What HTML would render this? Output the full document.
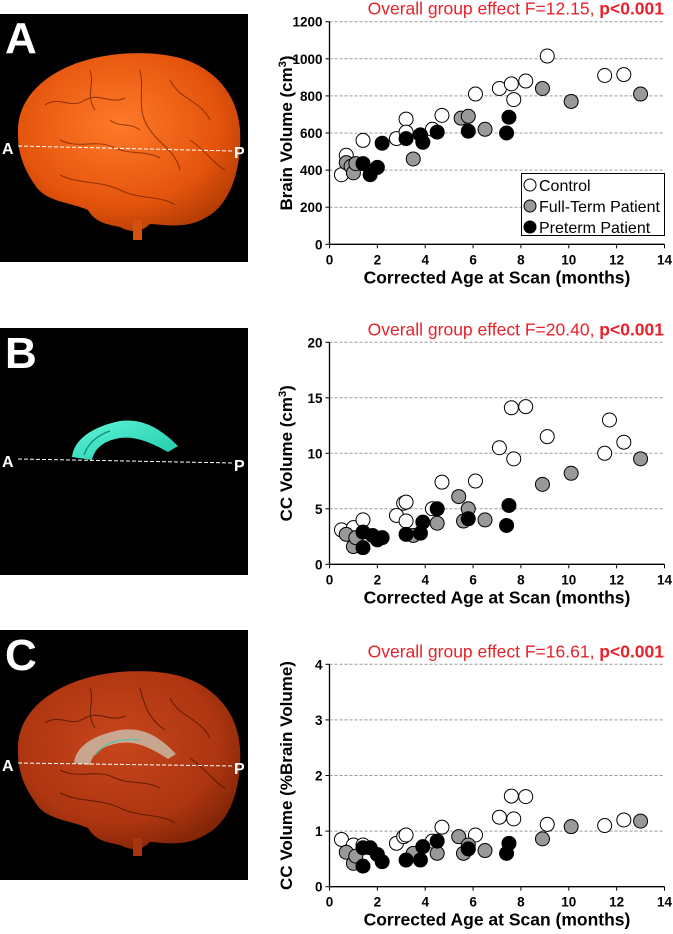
<!DOCTYPE html>
<html><head><meta charset="utf-8"><style>
html,body{margin:0;padding:0;background:#fff;}
svg{display:block;font-family:"Liberation Sans",Arial,sans-serif;}
</style></head><body>
<svg id="fig" width="673" height="934" viewBox="0 0 673 934" xmlns="http://www.w3.org/2000/svg">
<defs>
<radialGradient id="brainO" cx="45%" cy="40%" r="65%">
<stop offset="0" stop-color="#ff7a2a"/><stop offset="0.7" stop-color="#e4540c"/><stop offset="1" stop-color="#b33c05"/>
</radialGradient>
<radialGradient id="brainR" cx="45%" cy="40%" r="65%">
<stop offset="0" stop-color="#c8461c"/><stop offset="0.7" stop-color="#ad3510"/><stop offset="1" stop-color="#7e2408"/>
</radialGradient>
<linearGradient id="ccG" x1="0" y1="0" x2="1" y2="1">
<stop offset="0" stop-color="#5ff5d8"/><stop offset="1" stop-color="#1fc9aa"/>
</linearGradient>
</defs>

<g>
<rect x="0" y="14" width="248" height="248" fill="#000"/>
<path d="M18,135 C16,95 50,72 80,62 C110,52 150,50 180,58 C215,68 238,95 240,130 C242,165 232,205 205,218 C185,230 160,224 150,224 C140,234 130,232 120,227 C105,224 95,222 88,210 C70,202 45,202 35,185 C23,168 18,152 18,135 Z" fill="url(#brainO)"/>
<path d="M133,220 L133,240 L142,240 L142,220 Z" fill="#d45010"/>
<g fill="none" stroke="#7a2400" stroke-width="1" opacity="0.8">
<path d="M45,105 C60,95 70,110 85,100 C100,92 110,105 125,98"/>
<path d="M60,140 C80,150 95,138 115,148 C130,155 145,150 160,158"/>
<path d="M140,70 C145,90 135,110 150,130 C160,145 175,150 180,170"/>
<path d="M90,70 C95,85 85,95 95,110"/>
<path d="M170,80 C180,100 200,100 210,120"/>
<path d="M60,175 C80,185 100,180 120,190 C140,200 160,195 175,205"/>
<path d="M190,140 C205,150 215,165 225,170"/>
<path d="M110,120 C120,128 130,122 140,130"/>
</g>
<text x="5" y="53" font-size="44" font-weight="bold" fill="#fff">A</text>
<line x1="18" y1="146" x2="234" y2="151" stroke="#fff" stroke-width="1" stroke-dasharray="4,2"/>
<text x="2" y="154" font-size="16" font-weight="bold" fill="#fff">A</text>
<text x="234" y="158" font-size="16" font-weight="bold" fill="#fff">P</text>
</g>

<g>
<rect x="0" y="328" width="248" height="247" fill="#000"/>
<path d="M72,457 C74,438 95,426 120,421 C142,418 160,428 178,446 L168,452 C150,442 135,436 120,438 C102,441 94,450 92,460 Z" fill="url(#ccG)"/>
<path d="M84,455 C88,443 98,435 110,431" fill="none" stroke="#0d8a74" stroke-width="1.2"/>
<text x="5" y="368" font-size="44" font-weight="bold" fill="#fff">B</text>
<line x1="18" y1="459" x2="234" y2="463" stroke="#fff" stroke-width="1" stroke-dasharray="4,2"/>
<text x="2" y="467" font-size="16" font-weight="bold" fill="#fff">A</text>
<text x="234" y="471" font-size="16" font-weight="bold" fill="#fff">P</text>
</g>

<g>
<rect x="0" y="630" width="248" height="250" fill="#000"/>
<path d="M18,752 C16,713 50,690 80,680 C110,670 150,668 180,676 C215,686 238,713 240,748 C242,783 232,822 205,835 C185,848 160,842 150,842 C140,852 130,850 120,845 C105,842 95,840 88,828 C70,820 45,820 35,802 C23,785 18,770 18,752 Z" fill="url(#brainR)"/>
<path d="M133,838 L133,856 L142,856 L142,838 Z" fill="#a83410"/>
<g fill="none" stroke="#4a1400" stroke-width="1" opacity="0.8">
<path d="M45,723 C60,713 70,728 85,718 C100,710 110,723 125,716"/>
<path d="M60,770 C80,780 95,768 115,778 C130,785 145,780 160,788"/>
<path d="M140,688 C145,708 150,720 165,730"/>
<path d="M90,688 C95,703 85,713 95,728"/>
<path d="M170,698 C180,718 200,718 210,738"/>
<path d="M60,793 C80,803 100,798 120,808 C140,818 160,813 175,823"/>
<path d="M190,758 C205,768 215,783 225,788"/>
</g>
<path d="M74,763 C76,745 95,735 120,730 C142,727 158,735 176,754 L168,759 C150,747 135,741 120,743 C100,746 92,755 90,765 Z" fill="#cfe9e0" opacity="0.6"/>
<path d="M95,755 C105,742 120,738 140,740" fill="none" stroke="#3cc9b0" stroke-width="1.2" opacity="0.8"/>
<text x="5" y="670" font-size="44" font-weight="bold" fill="#fff">C</text>
<line x1="18" y1="763" x2="234" y2="766" stroke="#fff" stroke-width="1" stroke-dasharray="4,2"/>
<text x="2" y="771" font-size="16" font-weight="bold" fill="#fff">A</text>
<text x="234" y="774" font-size="16" font-weight="bold" fill="#fff">P</text>
</g>
<g id="charts"></g>
</svg>
<script>
const aCtrlX=[0.5,0.7,0.9,1.4,2.8,3.2,3.2,4.3,4.7,6.1,7.1,7.6,7.7,8.2,9.1,11.5,12.3];
const aCtrlY=[375,480,430,560,570,675,605,620,695,810,840,865,780,880,1015,910,915];
const aFullX=[0.7,0.9,1.0,1.1,3.5,5.5,5.8,6.5,8.9,10.1,13.0];
const aFullY=[440,420,385,435,460,680,690,620,840,770,810];
const aPreX=[1.4,1.7,2.0,2.2,3.2,3.8,3.9,4.5,5.8,7.4,7.5];
const aPreY=[435,375,415,545,570,590,550,605,610,600,685];
const aTicks=[0,200,400,600,800,1000,1200];
const bCtrlX=[0.5,1.0,1.4,2.8,3.1,3.2,3.2,4.3,4.7,6.1,7.1,7.6,7.7,8.2,9.1,11.5,11.7,12.3];
const bCtrlY=[3.1,3.3,4.0,4.4,5.5,5.6,3.9,5.0,7.4,7.5,10.5,14.1,9.5,14.2,11.5,10.0,13.0,11.0];
const bFullX=[0.7,1.0,1.1,3.5,4.5,5.4,5.6,5.8,6.5,8.9,10.1,13.0];
const bFullY=[2.7,1.6,2.4,2.6,3.7,6.1,3.9,5.0,4.0,7.2,8.2,9.5];
const bPreX=[1.4,1.4,1.8,2.0,2.2,3.2,3.8,3.9,4.5,5.8,7.4,7.5];
const bPreY=[2.9,1.5,2.6,2.2,2.4,2.7,2.8,3.8,5.0,4.1,3.5,5.3];
const bTicks=[0,5,10,15,20];
const cCtrlX=[0.5,1.0,1.4,2.8,3.1,3.2,4.3,4.7,6.1,7.1,7.6,7.7,8.2,9.1,11.5,12.3];
const cCtrlY=[0.85,0.75,0.75,0.78,0.9,0.93,0.82,1.07,0.93,1.25,1.63,1.22,1.62,1.12,1.1,1.2];
const cFullX=[0.7,1.0,1.1,3.5,4.5,5.4,5.6,5.8,6.5,8.9,10.1,13.0];
const cFullY=[0.62,0.42,0.55,0.6,0.6,0.9,0.6,0.75,0.65,0.86,1.08,1.18];
const cPreX=[1.4,1.4,1.7,2.0,2.2,3.2,3.8,3.9,4.5,5.8,7.4,7.5];
const cPreY=[0.7,0.37,0.7,0.58,0.45,0.48,0.48,0.72,0.82,0.68,0.6,0.78];
const cTicks=[0,1,2,3,4];
const xTicks=[0,2,4,6,8,10,12,14];

const NS="http://www.w3.org/2000/svg";
const root=document.getElementById('charts');
function mk(tag,attrs,parent,txt){const e=document.createElementNS(NS,tag);for(const k in attrs)e.setAttribute(k,attrs[k]);if(txt!==undefined)e.textContent=txt;parent.appendChild(e);return e;}

function chart(id,top,bot,ymax,yTicks,ytitle,ytitleSup,title,series,legend){
  const g=mk('g',{},root);
  
  
  const x0=329.5,x1=664.5;
  const sx=v=>x0+(v/14)*(x1-x0);
  const sy=v=>bot-(v/ymax)*(bot-top);
  yTicks.forEach(t=>{
    if(t>0){const gl=mk('line',{x1:x0,x2:x1,y1:sy(t),y2:sy(t),stroke:'#999','stroke-width':1,'stroke-dasharray':'3,2'},g);
      
      }
    mk('line',{x1:x0-4,x2:x0,y1:sy(t),y2:sy(t),stroke:'#000'},g);
    const tl=mk('text',{x:x0-7,y:sy(t)+5,'text-anchor':'end','font-size':13.5,'font-weight':'bold'},g,String(t));
    
    
  });
  xTicks.forEach(t=>{
    mk('line',{x1:sx(t),x2:sx(t),y1:bot,y2:bot+4,stroke:'#000'},g);
    const tl=mk('text',{x:sx(t),y:bot+20,'text-anchor':'middle','font-size':13.5,'font-weight':'bold'},g,String(t));
    
    
  });
  mk('line',{x1:x0,x2:x0,y1:top,y2:bot,stroke:'#000','stroke-width':1.3},g);
  mk('line',{x1:x0,x2:x1,y1:bot,y2:bot,stroke:'#000','stroke-width':1.3},g);
  const xt=mk('text',{x:497,y:bot+39,'text-anchor':'middle','font-size':17.5,'font-weight':'bold'},g,'Corrected Age at Scan (months)');
  
  
  const cy=(top+bot)/2;
  const yt=mk('text',{x:0,y:0,transform:`translate(292,${cy}) rotate(-90)`,'text-anchor':'middle','font-size':17,'font-weight':'bold'},g);
  
  
  mk('tspan',{},yt,ytitle);
  if(ytitleSup){mk('tspan',{'baseline-shift':'super','font-size':11},yt,ytitleSup);mk('tspan',{},yt,')');}
  const tt=mk('text',{x:664,y:top-7,'text-anchor':'end','font-size':17.5,fill:'#e8222a'},g);
  
  
  mk('tspan',{},tt,title+', ');
  mk('tspan',{'font-weight':'bold'},tt,'p<0.001');
  series.forEach(s=>{
    s.xs.forEach((xv,i)=>{
      const c=mk('circle',{cx:sx(xv),cy:sy(s.ys[i]),r:7,fill:s.fill,stroke:'#000','stroke-width':1},g);
      
      
    });
  });
  if(legend){
    const lg=mk('g',{},g);
    
    
    mk('rect',{x:521.5,y:173.5,width:143,height:62,fill:'#fff',stroke:'#000','stroke-width':1},lg);
    series.forEach((s,i)=>{
      const e=mk('g',{},lg);
      
      
      mk('circle',{cx:530,cy:185+i*21,r:6,fill:s.fill,stroke:'#000'},e);
      mk('text',{x:539,y:191+i*21,'font-size':16},e,s.label);
    });
  }
}
chart('brain-volume-chart',21.7,244.3,1200,aTicks,'Brain Volume (cm','3','Overall group effect F=12.15',
 [{xs:aCtrlX,ys:aCtrlY,fill:'#fff',name:'control',label:'Control'},{xs:aFullX,ys:aFullY,fill:'#999',name:'full-term',label:'Full-Term Patient'},{xs:aPreX,ys:aPreY,fill:'#000',name:'preterm',label:'Preterm Patient'}],true);
chart('cc-volume-chart',342.3,564.3,20,bTicks,'CC Volume (cm','3','Overall group effect F=20.40',
 [{xs:bCtrlX,ys:bCtrlY,fill:'#fff',name:'control'},{xs:bFullX,ys:bFullY,fill:'#999',name:'full-term'},{xs:bPreX,ys:bPreY,fill:'#000',name:'preterm'}],false);
chart('cc-percent-chart',664.3,886.7,4,cTicks,'CC Volume (%Brain Volume)','','Overall group effect F=16.61',
 [{xs:cCtrlX,ys:cCtrlY,fill:'#fff',name:'control'},{xs:cFullX,ys:cFullY,fill:'#999',name:'full-term'},{xs:cPreX,ys:cPreY,fill:'#000',name:'preterm'}],false);
</script>
</body></html>
